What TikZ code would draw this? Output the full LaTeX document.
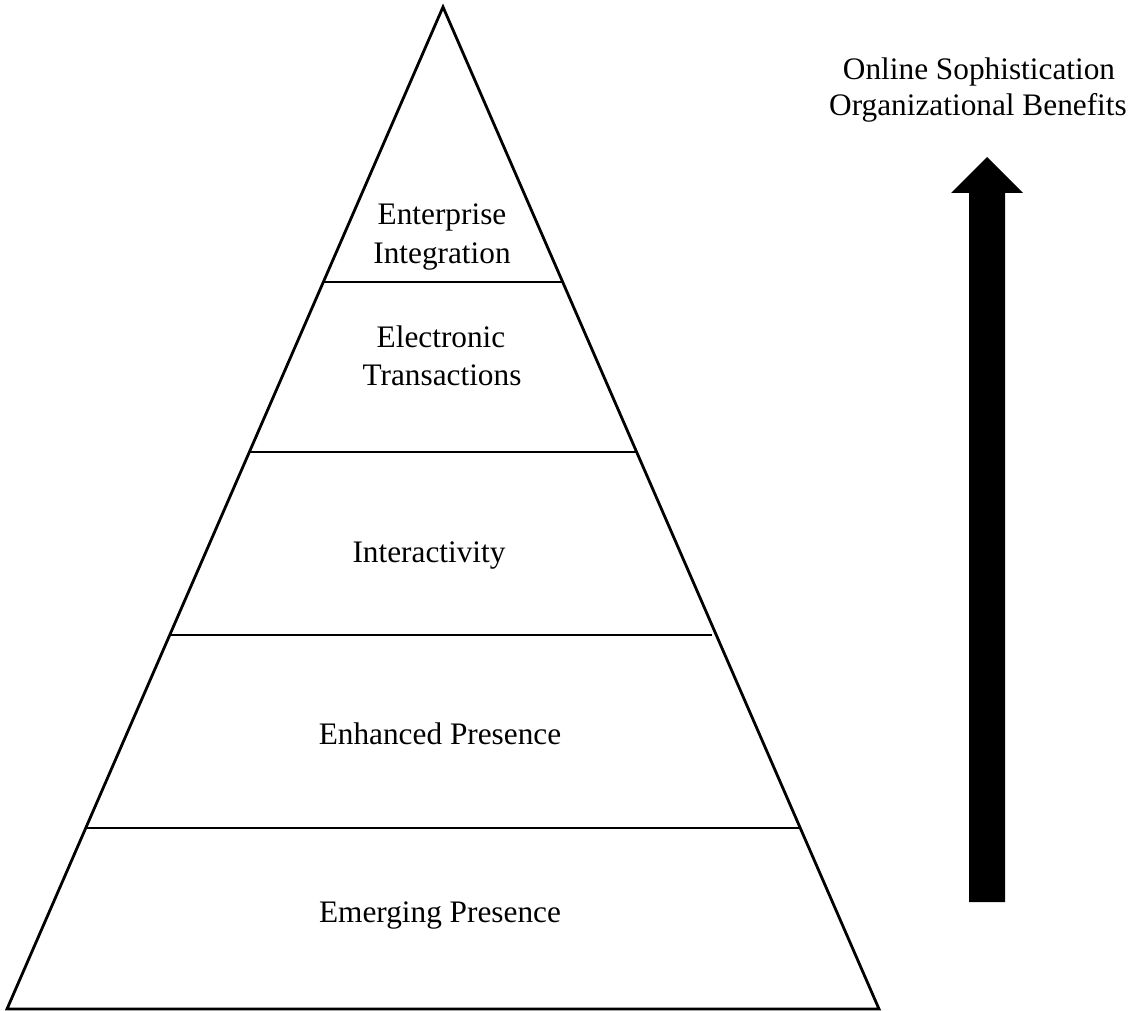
\documentclass[tikz,border=0pt]{standalone}
\usepackage{fontspec}
\setmainfont{Liberation Serif}
\begin{document}
\begin{tikzpicture}[x=1pt,y=-1pt,
  edge/.style={line width=2.8pt, line join=miter},
  tier/.style={line width=2.8pt},
  lbl/.style={anchor=base, inner sep=0pt, font=\fontsize{31.3}{38}\selectfont},
  bigarrow/.style={fill=black, draw=none}]
  \useasboundingbox (0,0) rectangle (1140,1011);

  % pyramid outline
  \coordinate (apex) at (443,7);
  \coordinate (bl) at (7,1009);
  \coordinate (br) at (879,1009);
  \draw[edge] (apex) -- (bl) -- (br) -- cycle;

  % dividing lines between tiers
  \coordinate (t1l) at (324,282); \coordinate (t1r) at (562,282);
  \coordinate (t2l) at (250,452); \coordinate (t2r) at (637,452);
  \coordinate (t3l) at (170,635); \coordinate (t3r) at (712,635);
  \coordinate (t4l) at (86,828);  \coordinate (t4r) at (799,828);
  \draw[tier] (t1l) -- (t1r);
  \draw[tier] (t2l) -- (t2r);
  \draw[tier] (t3l) -- (t3r);
  \draw[tier] (t4l) -- (t4r);

  % tier labels
  \node[lbl] (ei1) at (442,225) {Enterprise};
  \node[lbl] (ei2) at (442,263) {Integration};
  \node[lbl] (et1) at (441,347) {Electronic};
  \node[lbl] (et2) at (442,385) {Transactions};
  \node[lbl] (inter) at (429,562) {Interactivity};
  \node[lbl] (enh) at (440,744) {Enhanced Presence};
  \node[lbl] (emg) at (440,922) {Emerging Presence};

  % side caption
  \node[lbl] (cap1) at (979,80) {Online Sophistication};
  \node[lbl] (cap2) at (978,116) {Organizational Benefits};

  % upward block arrow
  \coordinate (sbl) at (969,902);
  \coordinate (sbr) at (1005,902);
  \coordinate (shr) at (1005,193);
  \coordinate (hr) at (1023,193);
  \coordinate (tip) at (987,157);
  \coordinate (hl) at (951,193);
  \coordinate (shl) at (969,193);
  \fill[bigarrow] (sbl) -- (sbr) -- (shr) -- (hr) -- (tip) -- (hl) -- (shl) -- cycle;
\end{tikzpicture}
\end{document}
